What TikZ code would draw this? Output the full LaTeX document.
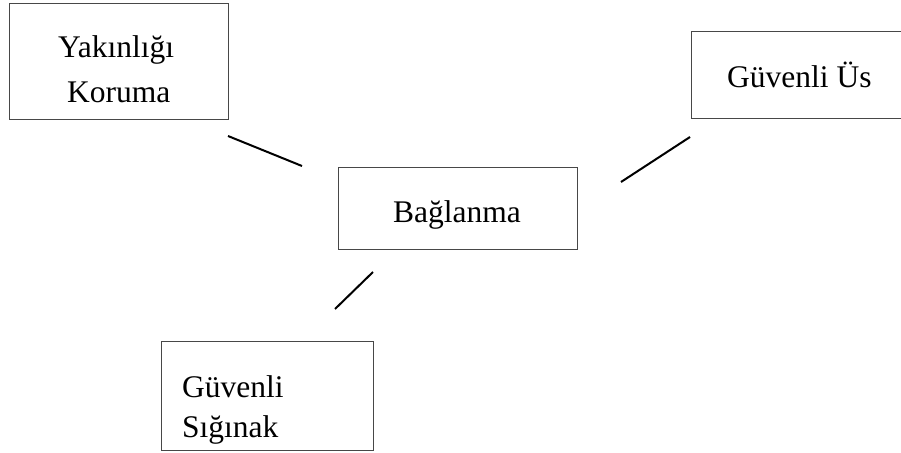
\documentclass[tikz,border=0pt]{standalone}
\usepackage{fontspec}
\setmainfont{Liberation Serif}
\begin{document}
\begin{tikzpicture}[x=1pt,y=-1pt,
  box/.style={draw=black!72,line width=1.3pt,rectangle,inner sep=0pt,anchor=north west},
  lbl/.style={font=\fontsize{31.5}{38}\selectfont,inner sep=0pt,anchor=base west},
  link/.style={line width=2pt,draw=black}]
\clip (0,0) rectangle (901,452);
\fill[white] (0,0) rectangle (901,452);
% boxes
\node[box,minimum width=219pt,minimum height=116pt] (kor) at (9,3) {};
\node[box,minimum width=240pt,minimum height=87pt] (us) at (691,31) {};
\node[box,minimum width=239pt,minimum height=82pt] (bag) at (338,167) {};
\node[box,minimum width=212pt,minimum height=109pt] (sig) at (161,341) {};
% texts
\node[lbl] (t1a) at (58,57) {Yakınlığı};
\node[lbl] (t1b) at (67,102) {Koruma};
\node[lbl] (t2) at (727,87) {Güvenli Üs};
\node[lbl] (t3) at (393,222) {Bağlanma};
\node[lbl] (t4a) at (182,397) {Güvenli};
\node[lbl] (t4b) at (182,437) {Sığınak};
% connector segments
\coordinate (l1a) at (228,136);
\coordinate (l1b) at (302,166);
\coordinate (l2a) at (690,137);
\coordinate (l2b) at (621,182);
\coordinate (l3a) at (373,272);
\coordinate (l3b) at (335,309);
\draw[link] (l1a) -- (l1b);
\draw[link] (l2a) -- (l2b);
\draw[link] (l3a) -- (l3b);
\end{tikzpicture}
\end{document}
